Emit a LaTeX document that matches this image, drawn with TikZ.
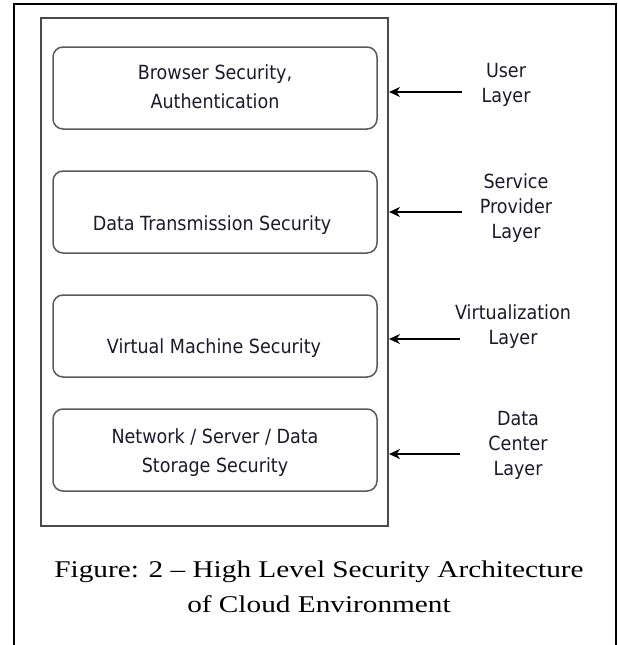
\documentclass[tikz,border=0pt]{standalone}
\usepackage{fontspec}
\usetikzlibrary{arrows.meta}
\newfontfamily\boxfont[FakeStretch=0.9]{DejaVu Sans}
\newfontfamily\capfont[FakeStretch=1.22]{Liberation Serif}
\definecolor{boxgray}{HTML}{5A5A5A}
\definecolor{innergray}{HTML}{4A4A4A}
\definecolor{txt}{HTML}{1A1A2A}
\tikzset{
  rbox/.style={draw=boxgray, line width=1.5pt, rounded corners=10pt, minimum width=324pt, minimum height=82pt, inner sep=0pt},
  btext/.style={font=\boxfont\fontsize{19.5}{28.5}\selectfont, text=txt, anchor=base, inner sep=0pt, align=center},
  ltext/.style={font=\boxfont\fontsize{19.5}{25}\selectfont, text=txt, anchor=base, inner sep=0pt, align=center},
  arr/.style={line width=2pt, -{Stealth[length=11pt, width=10pt]}},
  captext/.style={font=\capfont\fontsize{24}{35}\selectfont, text=black, anchor=base, inner sep=0pt, align=center}
}
\begin{document}
\begin{tikzpicture}[x=1pt, y=-1pt]
\useasboundingbox (0,0) rectangle (618,645);
% outer frame (open at the bottom)
\draw[line width=1.2pt] (14,645) -- (14,4) -- (616,4) -- (616,645);
% inner rectangle
\node[draw=innergray, line width=2pt, minimum width=347pt, minimum height=508pt, inner sep=0pt] (inner) at (214.5,272) {};
% rounded boxes
\node[rbox] (b1) at (215,88) {};
\node[rbox] (b2) at (215,212) {};
\node[rbox] (b3) at (215,336) {};
\node[rbox] (b4) at (215,450) {};
% box texts (base = last line's baseline)
\node[btext] (t1) at (215,108) {Browser Security,\\Authentication};
\node[btext] (t2) at (212,230) {Data Transmission Security};
\node[btext] (t3) at (214,353) {Virtual Machine Security};
\node[btext] (t4) at (215,472) {Network / Server / Data\\Storage Security};
% layer labels
\node[ltext] (l1) at (506,102) {User\\Layer};
\node[ltext] (l2) at (516,238) {Service\\Provider\\Layer};
\node[ltext] (l3) at (513,344) {Virtualization\\Layer};
\node[ltext] (l4) at (518,475) {Data\\Center\\Layer};
% arrows
\coordinate (a1) at (462,92);
\coordinate (a2) at (462,212);
\coordinate (a3) at (460,339);
\coordinate (a4) at (460,454);
\draw[arr] (a1) -- (a1 -| inner.east);
\draw[arr] (a2) -- (a2 -| inner.east);
\draw[arr] (a3) -- (a3 -| inner.east);
\draw[arr] (a4) -- (a4 -| inner.east);
% caption
\node[captext] (caption) at (319,612) {Figure: 2 \textendash\ High Level Security Architecture\\of Cloud Environment};
\end{tikzpicture}
\end{document}
